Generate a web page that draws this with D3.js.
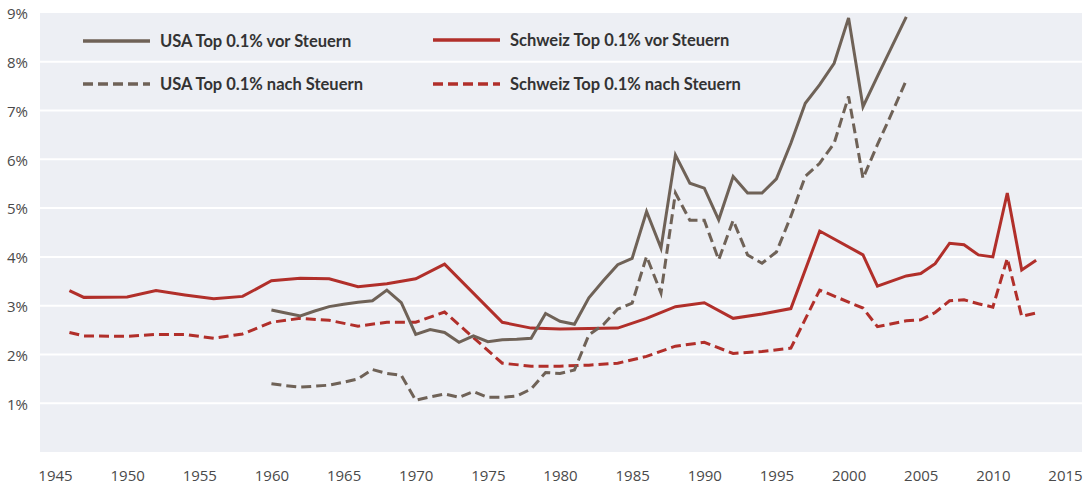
<!DOCTYPE html>
<html>
<head>
<meta charset="utf-8">
<script src="https://cdn.jsdelivr.net/npm/d3@7"></script>
<style>
  body { margin: 0; background: #ffffff; }
  svg { display: block; }
</style>
</head>
<body>
<div id="chart"></div>
<script>

// --- data ---
var usYears = [1960, 1961, 1962, 1963, 1964, 1965, 1966, 1967, 1968, 1969,
               1970, 1971, 1972, 1973, 1974, 1975, 1976, 1977, 1978, 1979,
               1980, 1981, 1982, 1983, 1984, 1985, 1986, 1987, 1988, 1989,
               1990, 1991, 1992, 1993, 1994, 1995, 1996, 1997, 1998, 1999,
               2000, 2001, 2002, 2003, 2004];
var usPreTax = [2.91, 2.85, 2.79, 2.89, 2.98, 3.03, 3.07, 3.10, 3.32, 3.06,
                2.41, 2.51, 2.45, 2.25, 2.38, 2.26, 2.30, 2.31, 2.33, 2.84,
                2.68, 2.62, 3.16, 3.51, 3.84, 3.97, 4.93, 4.18, 6.09, 5.51,
                5.41, 4.76, 5.65, 5.31, 5.31, 5.60, 6.33, 7.15, 7.53, 7.97,
                8.90, 7.08, 7.70, 8.31, 8.92];
var usPostTax = [1.40, 1.36, 1.33, 1.35, 1.37, 1.43, 1.50, 1.69, 1.61, 1.57,
                 1.06, 1.13, 1.19, 1.12, 1.24, 1.12, 1.12, 1.15, 1.29, 1.63,
                 1.61, 1.68, 2.40, 2.61, 2.93, 3.05, 4.01, 3.26, 5.31, 4.75,
                 4.75, 3.94, 4.75, 4.04, 3.87, 4.10, 4.83, 5.65, 5.92, 6.33,
                 7.29, 5.61, 6.30, 6.95, 7.62];

var chYears = [1946, 1947, 1950, 1952, 1954, 1956, 1958, 1960, 1962, 1964,
               1966, 1968, 1970, 1972, 1976, 1978, 1980, 1982, 1984, 1986,
               1988, 1990, 1992, 1994, 1996, 1998, 2001, 2002, 2004, 2005,
               2006, 2007, 2008, 2009, 2010, 2011, 2012, 2013];
var chPreTax = [3.31, 3.17, 3.18, 3.31, 3.22, 3.14, 3.19, 3.51, 3.56, 3.55,
                3.39, 3.45, 3.55, 3.85, 2.66, 2.54, 2.52, 2.53, 2.54, 2.74,
                2.98, 3.06, 2.74, 2.83, 2.94, 4.53, 4.04, 3.40, 3.61, 3.66,
                3.86, 4.28, 4.25, 4.04, 4.00, 5.31, 3.73, 3.93];
var chPostTax = [2.45, 2.38, 2.37, 2.41, 2.41, 2.33, 2.42, 2.66, 2.74, 2.70,
                 2.58, 2.66, 2.66, 2.87, 1.82, 1.76, 1.76, 1.78, 1.82, 1.96,
                 2.17, 2.25, 2.02, 2.06, 2.13, 3.32, 2.95, 2.57, 2.69, 2.71,
                 2.86, 3.10, 3.12, 3.04, 2.97, 3.97, 2.78, 2.85];

var xTicks = [1945, 1950, 1955, 1960, 1965, 1970, 1975, 1980, 1985, 1990,
              1995, 2000, 2005, 2010, 2015];
var yTicks = [1, 2, 3, 4, 5, 6, 7, 8, 9];

var seriesNames = ["USA Top 0.1% vor Steuern", "USA Top 0.1% nach Steuern",
                   "Schweiz Top 0.1% vor Steuern", "Schweiz Top 0.1% nach Steuern"];

// --- layout ---
var width = 1083, height = 488;
var brown = "#6f6257", red = "#b12f2a";

var svg = d3.select("#chart").append("svg")
  .attr("width", width)
  .attr("height", height);

var x = d3.scaleLinear().domain([1945, 2015]).range([55, 1065]);
var y = d3.scaleLinear().domain([0, 9]).range([452, 13]);

// grey plot panel
svg.append("rect")
  .attr("x", 40)
  .attr("y", y(9))
  .attr("width", 1042)
  .attr("height", y(0) - y(9))
  .attr("fill", "#edeff4");

// white gridlines
svg.selectAll("line.grid")
  .data(yTicks.filter(function(d) { return d < 9; }))
  .enter().append("line")
    .attr("class", "grid")
    .attr("x1", 40)
    .attr("x2", 1082)
    .attr("y1", function(d) { return y(d); })
    .attr("y2", function(d) { return y(d); })
    .attr("stroke", "#ffffff")
    .attr("stroke-width", 2);

// y axis labels
var yAxis = d3.axisLeft(y).tickValues(yTicks).tickSize(0)
  .tickFormat(function(d) { return d + "%"; });
svg.append("g")
  .attr("transform", "translate(31,1)")
  .call(yAxis)
  .call(function(g) { g.select(".domain").remove(); })
  .selectAll("text")
    .attr("fill", "#4a4a4a")
    .style("font-family", "'Open Sans', sans-serif")
    .style("font-size", "15px");

// x axis labels
var xAxis = d3.axisBottom(x).tickValues(xTicks).tickSize(0)
  .tickFormat(d3.format("d"));
svg.append("g")
  .attr("transform", "translate(0,467)")
  .call(xAxis)
  .call(function(g) { g.select(".domain").remove(); })
  .selectAll("text")
    .attr("fill", "#4a4a4a")
    .style("font-family", "'Open Sans', sans-serif")
    .style("font-size", "15px");

// lines
var line = d3.line()
  .x(function(d) { return x(d[0]); })
  .y(function(d) { return y(d[1]); });

var series = [
  { years: chYears, values: chPostTax, color: red,   dash: "10,5" },
  { years: chYears, values: chPreTax,  color: red,   dash: null },
  { years: usYears, values: usPostTax, color: brown, dash: "10,5" },
  { years: usYears, values: usPreTax,  color: brown, dash: null }
];

svg.selectAll("path.series")
  .data(series)
  .enter().append("path")
    .attr("class", "series")
    .attr("d", function(s) { return line(d3.zip(s.years, s.values)); })
    .attr("fill", "none")
    .attr("stroke", function(s) { return s.color; })
    .attr("stroke-width", 3)
    .attr("stroke-linejoin", "miter")
    .attr("stroke-dasharray", function(s) { return s.dash; });

// legend
var legend = [
  { name: seriesNames[0], color: brown, dash: null,   lx: 83,  ly: 41 },
  { name: seriesNames[1], color: brown, dash: "10,5", lx: 83,  ly: 84 },
  { name: seriesNames[2], color: red,   dash: null,   lx: 433, ly: 40 },
  { name: seriesNames[3], color: red,   dash: "10,5", lx: 433, ly: 84 }
];

var lg = svg.selectAll("g.legend")
  .data(legend)
  .enter().append("g")
    .attr("class", "legend")
    .attr("transform", function(d) { return "translate(" + d.lx + "," + d.ly + ")"; });

lg.append("line")
  .attr("x1", 0)
  .attr("x2", 67)
  .attr("stroke", function(d) { return d.color; })
  .attr("stroke-width", 3.5)
  .attr("stroke-dasharray", function(d) { return d.dash; });

lg.append("text")
  .attr("x", 77)
  .attr("y", 5.5)
  .attr("fill", "#333333")
  .style("font-family", "Lato, sans-serif")
  .style("font-size", "16.5px")
  .style("font-weight", "700")
  .text(function(d) { return d.name; });

</script>
</body>
</html>
